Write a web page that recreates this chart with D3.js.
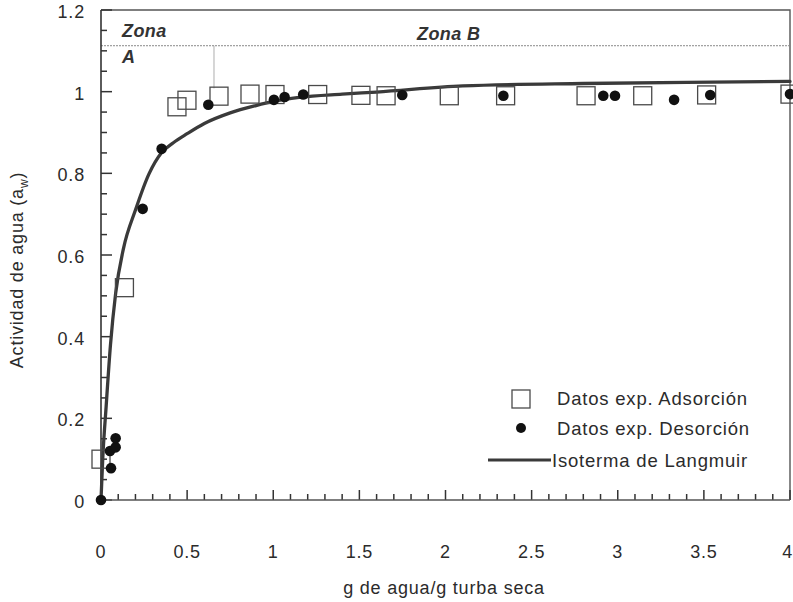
<!DOCTYPE html>
<html>
<head>
<meta charset="utf-8">
<script src="https://cdn.jsdelivr.net/npm/d3@7"></script>
<style>
  html, body { margin: 0; padding: 0; background: #fff; }
  svg { display: block; font-family: "Liberation Sans", Arial, sans-serif; }
</style>
</head>
<body>
<svg id="chart" width="793" height="602"></svg>
<script>
// Adsorption experiments (g water / g dry peat, water activity)
const adsX = [0.0, 0.136, 0.441, 0.499, 0.685, 0.865, 1.01, 1.258, 1.509, 1.655, 2.022, 2.349, 2.816, 3.145, 3.516, 4.0];
const adsY = [0.10, 0.520, 0.963, 0.979, 0.989, 0.994, 0.993, 0.993, 0.991, 0.990, 0.990, 0.990, 0.990, 0.990, 0.992, 0.994];

// Desorption experiments
const desX = [0.0, 0.058, 0.052, 0.085, 0.085, 0.242, 0.352, 0.623, 1.004, 1.066, 1.174, 1.749, 2.336, 2.916, 2.984, 3.327, 3.537, 4.0];
const desY = [0.0, 0.078, 0.120, 0.129, 0.151, 0.713, 0.860, 0.968, 0.980, 0.987, 0.993, 0.992, 0.990, 0.990, 0.990, 0.980, 0.992, 0.994];

// Langmuir isotherm fit
const fitX = [0, 0.01, 0.03, 0.055, 0.085, 0.13, 0.2, 0.28, 0.35, 0.42, 0.5, 0.6, 0.75, 0.9, 1.0, 1.15, 1.4, 1.6, 2.1, 2.8, 3.4, 4.0];
const fitY = [0, 0.1, 0.23, 0.38, 0.506, 0.615, 0.71, 0.80, 0.85, 0.875, 0.897, 0.922, 0.948, 0.966, 0.976, 0.986, 0.994, 0.999, 1.014, 1.020, 1.023, 1.025];

// Axis ticks
const xTicks = [0, 0.5, 1, 1.5, 2, 2.5, 3, 3.5, 4];
const xTickLabels = ["0", "0.5", "1", "1.5", "2", "2.5", "3", "3.5", "4"];
const yTicks = [0, 0.2, 0.4, 0.6, 0.8, 1, 1.2];
const yTickLabels = ["0", "0.2", "0.4", "0.6", "0.8", "1", "1.2"];

// Zone boundaries
const zoneLimitY = 1.1125;
const zoneLimitX = 0.656;

const legendLabels = ["Datos exp. Adsorción", "Datos exp. Desorción", "Isoterma de Langmuir"];

const svg = d3.select("#chart");
const plotLeft = 101, plotRight = 790, plotTop = 10, plotBottom = 500;

const x = d3.scaleLinear().domain([0, 4]).range([plotLeft, plotRight]);
const y = d3.scaleLinear().domain([0, 1.2]).range([plotBottom, plotTop]);

const ink = "#2b2b2b";
const frame = "#555";
const spacing = "0.8px";

// frame (top and right)
svg.append("path")
  .attr("d", `M${plotLeft},${plotTop}H${plotRight}V${plotBottom}`)
  .attr("fill", "none").attr("stroke", frame).attr("stroke-width", 1.4);

// zone separators
svg.append("line")
  .attr("x1", plotLeft).attr("x2", plotRight)
  .attr("y1", y(zoneLimitY)).attr("y2", y(zoneLimitY))
  .attr("stroke", "#888").attr("stroke-width", 1).attr("stroke-dasharray", "2,1");
svg.append("line")
  .attr("x1", x(zoneLimitX)).attr("x2", x(zoneLimitX))
  .attr("y1", y(zoneLimitY)).attr("y2", y(1.008))
  .attr("stroke", "#999").attr("stroke-width", 0.8);

// zone labels
function zoneText(tx, ty, s) {
  svg.append("text").attr("x", tx).attr("y", ty).text(s)
    .attr("font-size", 18).attr("font-weight", "bold").attr("font-style", "italic")
    .attr("letter-spacing", "0.4px").attr("fill", "#333");
}
zoneText(122, 37, "Zona");
zoneText(122, 63, "A");
zoneText(417, 40, "Zona B");

// ticks every 0.1 on x and 0.05 on y, drawn inward, longer at labelled values
const xMinor = d3.range(0, 41).map((i) => i / 10);
const yMinor = d3.range(0, 25).map((i) => i / 20);

svg.append("g").selectAll("path").data(xMinor).join("path")
  .attr("d", (d, i) => `M${x(d)},${plotBottom}V${plotBottom - (i % 5 === 0 ? 10 : 6)}`)
  .attr("fill", "none").attr("stroke", "#333").attr("stroke-width", 1.5);

svg.append("g").selectAll("path").data(yMinor).join("path")
  .attr("d", (d, i) => `M${plotLeft},${y(d)}H${plotLeft + (i % 4 === 0 ? 11 : 6)}`)
  .attr("fill", "none").attr("stroke", "#333").attr("stroke-width", 1.5);

// axis lines
svg.append("line").attr("x1", plotLeft).attr("x2", plotRight)
  .attr("y1", plotBottom).attr("y2", plotBottom)
  .attr("stroke", frame).attr("stroke-width", 1.4);
svg.append("line").attr("x1", plotLeft).attr("x2", plotLeft)
  .attr("y1", plotTop).attr("y2", plotBottom)
  .attr("stroke", "#333").attr("stroke-width", 1.6);

// tick labels
svg.append("g").selectAll("text").data(xTicks).join("text")
  .attr("x", (d, i) => (i === xTicks.length - 1 ? 793 : x(d)))
  .attr("y", 558)
  .attr("text-anchor", (d, i) => (i === xTicks.length - 1 ? "end" : "middle"))
  .attr("font-size", 18).attr("letter-spacing", spacing).attr("fill", ink)
  .text((d, i) => xTickLabels[i]);

svg.append("g").selectAll("text").data(yTicks).join("text")
  .attr("x", 85).attr("y", (d) => y(d) + 8)
  .attr("text-anchor", "end").attr("font-size", 18).attr("letter-spacing", spacing).attr("fill", ink)
  .text((d, i) => yTickLabels[i]);

// axis titles
svg.append("text")
  .attr("x", 444).attr("y", 594)
  .attr("text-anchor", "middle").attr("font-size", 18).attr("letter-spacing", spacing).attr("fill", ink)
  .text("g de agua/g turba seca");

const yt = svg.append("text")
  .attr("transform", "translate(23,270) rotate(-90)")
  .attr("text-anchor", "middle").attr("font-size", 18).attr("letter-spacing", spacing).attr("fill", ink);
yt.append("tspan").text("Actividad de agua (a");
yt.append("tspan").attr("font-size", 12).attr("dy", 5).text("w");
yt.append("tspan").attr("dy", -5).text(")");

// Langmuir curve
const fit = fitX.map((v, i) => [v, fitY[i]]);
svg.append("path")
  .datum(fit)
  .attr("fill", "none").attr("stroke", "#3a3a3a").attr("stroke-width", 3.3)
  .attr("stroke-linecap", "round")
  .attr("d", d3.line().x((d) => x(d[0])).y((d) => y(d[1])).curve(d3.curveMonotoneX));

// adsorption squares
const sq = 18;
svg.append("g").selectAll("rect")
  .data(adsX.map((v, i) => [v, adsY[i]]))
  .join("rect")
  .attr("x", (d) => x(d[0]) - sq / 2).attr("y", (d) => y(d[1]) - sq / 2)
  .attr("width", sq).attr("height", sq)
  .attr("fill", "none").attr("stroke", "#4a4a4a").attr("stroke-width", 1.3);

// desorption dots
svg.append("g").selectAll("circle")
  .data(desX.map((v, i) => [v, desY[i]]))
  .join("circle")
  .attr("cx", (d) => x(d[0])).attr("cy", (d) => y(d[1]))
  .attr("r", 5.3).attr("fill", "#111");

// legend
const lg = svg.append("g");
lg.append("rect").attr("x", 512).attr("y", 390).attr("width", 18).attr("height", 18)
  .attr("fill", "none").attr("stroke", "#4a4a4a").attr("stroke-width", 1.3);
lg.append("circle").attr("cx", 521).attr("cy", 428).attr("r", 5).attr("fill", "#111");
lg.append("line").attr("x1", 488).attr("x2", 551).attr("y1", 460).attr("y2", 460)
  .attr("stroke", "#3a3a3a").attr("stroke-width", 3);
lg.selectAll("text").data(legendLabels).join("text")
  .attr("x", (d, i) => (i < 2 ? 557 : 552))
  .attr("y", (d, i) => [405, 435, 467][i])
  .attr("font-size", 18.5).attr("letter-spacing", spacing).attr("fill", ink)
  .text((d) => d);
</script>
</body>
</html>
